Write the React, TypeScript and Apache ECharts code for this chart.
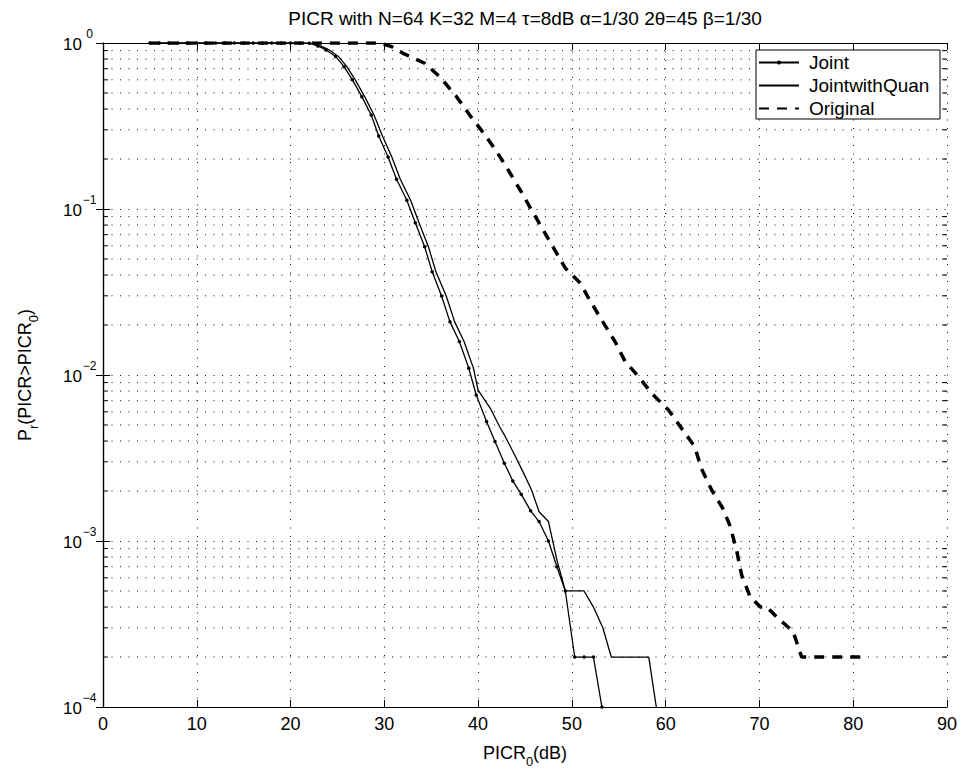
import React, { useEffect, useRef } from "react";
import * as echarts from "echarts";

const TITLE = "PICR with N=64 K=32 M=4 τ=8dB α=1/30 2θ=45 β=1/30";
const SERIES_NAMES = ["Joint", "JointwithQuan", "Original"];

const X_MIN = 0;
const X_MAX = 90;
const X_STEP = 10;
const Y_MIN = 1e-4;
const Y_MAX = 1;

const jointX = [5, 6, 7, 8, 9, 10, 11, 12, 13, 14, 15, 16, 17, 18, 19, 20, 21, 22.0, 22.9, 23.8, 24.8, 25.7, 26.6, 27.6, 28.6, 29.4, 30.4, 31.3, 32.4, 33.3, 34.3, 35.1, 36.1, 37.0, 38.0, 39.0, 39.8, 40.9, 41.8, 42.8, 43.7, 44.6, 45.6, 46.5, 47.5, 48.4, 49.3, 50.3, 51.3, 52.3, 53.2];
const jointP = [1, 1, 1, 1, 1, 1, 1, 1, 1, 1, 1, 1, 1, 1, 1, 1, 1, 0.998, 0.96, 0.908, 0.83, 0.72, 0.6, 0.475, 0.368, 0.275, 0.206, 0.151, 0.113, 0.0827, 0.0593, 0.0419, 0.0299, 0.0209, 0.0159, 0.011, 0.00758, 0.00524, 0.00397, 0.00294, 0.0023, 0.00191, 0.00152, 0.00131, 0.001, 0.0007, 0.0005, 0.0002, 0.0002, 0.0002, 0.0001];

const quanX = [5, 21.3, 22.3, 23.2, 24.1, 25.1, 26.0, 26.9, 27.9, 28.9, 29.8, 30.8, 31.7, 32.8, 33.7, 34.7, 35.5, 36.6, 37.5, 38.5, 39.5, 40.0, 41.3, 42.3, 42.9, 43.9, 44.8, 45.7, 46.5, 47.5, 48.4, 49.3, 50.3, 51.3, 52.3, 53.3, 54.2, 55.2, 56.2, 57.2, 58.2, 59.0];
const quanP = [1, 1, 0.995, 0.96, 0.91, 0.83, 0.72, 0.6, 0.475, 0.368, 0.275, 0.206, 0.151, 0.113, 0.0827, 0.0593, 0.0419, 0.0299, 0.0209, 0.0159, 0.011, 0.0081, 0.0063, 0.00488, 0.00425, 0.0033, 0.0026, 0.00203, 0.0015, 0.00131, 0.00077, 0.0005, 0.0005, 0.0005, 0.0004, 0.0003, 0.0002, 0.0002, 0.0002, 0.0002, 0.0002, 0.0001];

const origX = [5, 29.5, 30.8, 32.0, 34.3, 35.9, 37.7, 39.1, 40.6, 42.0, 43.2, 44.6, 45.7, 47.7, 49.3, 50.9, 51.9, 53.3, 54.6, 55.7, 57.1, 58.5, 60.3, 61.7, 63.1, 63.8, 64.9, 66.1, 66.9, 67.6, 68.1, 69.0, 70.1, 70.8, 71.8, 73.6, 74.5, 81.1];
const origP = [1, 1, 0.95, 0.867, 0.755, 0.627, 0.475, 0.368, 0.286, 0.221, 0.172, 0.127, 0.0986, 0.063, 0.044, 0.0357, 0.0283, 0.0209, 0.0159, 0.012, 0.0098, 0.00776, 0.00615, 0.00477, 0.0037, 0.00274, 0.00203, 0.00157, 0.00122, 0.00086, 0.000624, 0.000462, 0.0004, 0.0004, 0.00035, 0.000284, 0.0002, 0.0002];

const FONT = "'Liberation Sans', Arial, Helvetica, sans-serif";

function pairs(xs: number[], ys: number[]) {
  return xs.map((x, i) => [x, ys[i]]);
}

function minorValues() {
  const out: number[][] = [];
  for (let d = -4; d < 0; d++) {
    for (let m = 2; m <= 9; m++) {
      out.push([X_MIN, m * Math.pow(10, d)]);
    }
  }
  return out;
}

export default function App() {
  const ref = useRef<HTMLDivElement>(null);
  useEffect(() => {
    if (!ref.current) return;
    const chart = echarts.init(ref.current, undefined, { renderer: "svg" });
    const dotted = { color: "#111", width: 1, type: [1, 7.5] as any };
    const subRich = {
      n: { fontSize: 18, lineHeight: 18, padding: [0, 0, 6, 0], fontFamily: FONT, color: "#000" },
      sub: { fontSize: 13, lineHeight: 13, padding: [11, 0, 0, 0], fontFamily: FONT, color: "#000" },
    };
    const option: any = {
      animation: false,
      backgroundColor: "#fff",
      textStyle: { fontFamily: FONT },
      grid: { left: 103, right: 15, top: 43, bottom: 73, containLabel: false },
      graphic: [
        {
          type: "text",
          x: 525,
          y: 18,
          style: {
            text: TITLE,
            font: `19px ${FONT}`,
            fill: "#000",
            textAlign: "center",
            textVerticalAlign: "middle",
          },
        },
        {
          type: "rect",
          z: 3,
          shape: { x: 756, y: 50, width: 184, height: 69 },
          style: { fill: "#fff", stroke: "#000", lineWidth: 1 },
        },
      ],
      legend: {
        data: [
          { name: SERIES_NAMES[0] },
          { name: SERIES_NAMES[1], itemStyle: { opacity: 0 } },
          { name: SERIES_NAMES[2], itemStyle: { opacity: 0 } },
        ],
        orient: "vertical",
        left: 758,
        top: 53,
        padding: 0,
        itemWidth: 40,
        itemHeight: 5,
        itemGap: 4,
        z: 5,
        textStyle: { fontSize: 19, lineHeight: 19, color: "#000", fontFamily: FONT, padding: [0, 0, 0, 5] },
      },
      xAxis: [
        {
          type: "value",
          min: X_MIN,
          max: X_MAX,
          interval: X_STEP,
          position: "bottom",
          axisLine: { lineStyle: { color: "#000", width: 1.2 } },
          axisTick: { inside: true, length: 7, lineStyle: { color: "#000" } },
          axisLabel: { fontSize: 18, color: "#000", margin: 8, fontFamily: FONT },
          splitLine: { show: true, lineStyle: dotted },
          name: "{n|PICR}{sub|0}{n|(dB)}",
          nameLocation: "middle",
          nameGap: 40,
          nameTextStyle: { fontSize: 18, color: "#000", fontFamily: FONT, rich: subRich },
        },
        {
          type: "value",
          min: X_MIN,
          max: X_MAX,
          interval: X_STEP,
          position: "top",
          axisLine: { lineStyle: { color: "#000", width: 1.2 } },
          axisTick: { inside: true, length: 7, lineStyle: { color: "#000" } },
          axisLabel: { show: false },
          splitLine: { show: false },
        },
      ],
      yAxis: [
        {
          type: "log",
          logBase: 10,
          min: Y_MIN,
          max: Y_MAX,
          position: "left",
          axisLine: { show: true, lineStyle: { color: "#000", width: 1.2 } },
          axisTick: { show: true, inside: true, length: 7, lineStyle: { color: "#000" } },
          splitLine: { show: true, lineStyle: dotted },
          axisLabel: {
            color: "#000",
            margin: 6,
            formatter: (v: number) => {
              const e = Math.round(Math.log10(v));
              const s = e === 0 ? "0" : "−" + String(-e);
              return `{b|10}{s|${s}}`;
            },
            rich: {
              b: { fontSize: 17, lineHeight: 17, padding: [8, 0, 6, 0], fontFamily: FONT, color: "#000" },
              s: { fontSize: 12, lineHeight: 12, padding: [0, 0, 19, 0], width: 15, align: "left", fontFamily: FONT, color: "#000" },
            },
          },
          name: "{n|P}{sub|r}{n|(PICR>PICR}{sub|0}{n|)}",
          nameLocation: "middle",
          nameGap: 66,
          nameTextStyle: { fontSize: 18, color: "#000", fontFamily: FONT, rich: subRich },
        },
        {
          type: "log",
          logBase: 10,
          min: Y_MIN,
          max: Y_MAX,
          position: "right",
          axisLine: { show: true, lineStyle: { color: "#000", width: 1.2 } },
          axisTick: { show: true, inside: true, length: 7, lineStyle: { color: "#000" } },
          axisLabel: { show: false },
          splitLine: { show: false },
        },
      ],
      series: [
        {
          type: "custom",
          name: "minorGrid",
          xAxisIndex: 0,
          yAxisIndex: 0,
          silent: true,
          z: 1,
          encode: { x: 0, y: 1 },
          data: minorValues(),
          renderItem: (_params: any, api: any) => {
            const v = api.value(1);
            const l = api.coord([X_MIN, v]);
            const r = api.coord([X_MAX, v]);
            return {
              type: "group",
              children: [
                { type: "line", shape: { x1: l[0], y1: l[1], x2: r[0], y2: r[1] }, style: { stroke: "#111", lineWidth: 1, lineDash: [1, 7.5] } },
                { type: "line", shape: { x1: l[0], y1: l[1], x2: l[0] + 5, y2: l[1] }, style: { stroke: "#000", lineWidth: 1 } },
                { type: "line", shape: { x1: r[0] - 5, y1: r[1], x2: r[0], y2: r[1] }, style: { stroke: "#000", lineWidth: 1 } },
              ],
            };
          },
        },
        {
          type: "line",
          name: SERIES_NAMES[0],
          data: pairs(jointX, jointP),
          xAxisIndex: 0,
          yAxisIndex: 0,
          symbol: "circle",
          symbolSize: 3.5,
          showSymbol: true,
          itemStyle: { color: "#000" },
          lineStyle: { color: "#000", width: 1.3 },
          z: 2,
        },
        {
          type: "line",
          name: SERIES_NAMES[1],
          data: pairs(quanX, quanP),
          xAxisIndex: 0,
          yAxisIndex: 0,
          symbol: "none",
          itemStyle: { color: "#000" },
          lineStyle: { color: "#000", width: 1.3 },
          z: 2,
        },
        {
          type: "line",
          name: SERIES_NAMES[2],
          data: pairs(origX, origP),
          xAxisIndex: 0,
          yAxisIndex: 0,
          symbol: "none",
          itemStyle: { color: "#000" },
          lineStyle: { color: "#000", width: 3.5, type: [10, 8] },
          z: 2,
        },
      ],
    };
    chart.setOption(option);
    return () => chart.dispose();
  }, []);
  return (
    <div
      ref={ref}
      style={{ position: "fixed", left: 0, top: 0, width: 962, height: 780, background: "#fff" }}
    />
  );
}
